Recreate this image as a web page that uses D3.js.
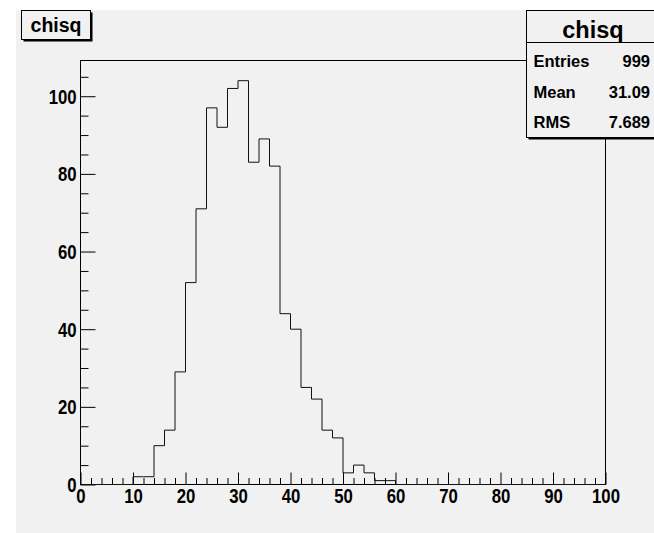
<!DOCTYPE html>
<html>
<head>
<meta charset="utf-8">
<script src="https://cdn.jsdelivr.net/npm/d3@7"></script>
<style>
  html, body { margin: 0; padding: 0; background: #ffffff; }
  svg { display: block; }
  text { font-family: "Liberation Sans", Arial, Helvetica, sans-serif; font-weight: bold; fill: #000; }
</style>
</head>
<body>
<svg id="chart" width="654" height="533"></svg>
<script>
// ---- data ----
const histTitle = "chisq";
const xMin = 0, xMax = 100, binWidth = 2;
const binCounts = [
  0, 0, 0, 0, 0,          // 0-10
  2, 2, 10, 14, 29,       // 10-20
  52, 71, 97, 92, 102,    // 20-30
  104, 83, 89, 82, 44,    // 30-40
  40, 25, 22, 14, 12,     // 40-50
  3, 5, 3, 1, 1,          // 50-60
  0, 0, 0, 0, 0,          // 60-70
  0, 0, 0, 0, 0,          // 70-80
  0, 0, 0, 0, 0,          // 80-90
  0, 0, 0, 0, 0           // 90-100
];
const yMaxAxis = 109.2;
const xMajorTicks = [0, 10, 20, 30, 40, 50, 60, 70, 80, 90, 100];
const yMajorTicks = [0, 20, 40, 60, 80, 100];
const statLabels = ["Entries", "Mean", "RMS"];
const statValues = ["999", "31.09", "7.689"];

// ---- layout ----
const svg = d3.select("#chart");
const frame = { left: 80.5, right: 605.5, top: 60.5, bottom: 484.5 };
const bg = "#f1f1f1";

svg.append("rect").attr("x", 16).attr("y", 10).attr("width", 654 - 16).attr("height", 533 - 10).attr("fill", bg);

const x = d3.scaleLinear().domain([xMin, xMax]).range([frame.left, frame.right]);
const y = d3.scaleLinear().domain([0, yMaxAxis]).range([frame.bottom, frame.top]);

// minor ticks
const xMinor = d3.range(xMin, xMax + 0.001, binWidth).filter(v => xMajorTicks.indexOf(v) < 0);
const yMinor = d3.range(0, yMaxAxis, 5).filter(v => yMajorTicks.indexOf(v) < 0);

const gx = svg.append("g").attr("transform", `translate(0,${frame.bottom})`);
gx.append("g").call(d3.axisBottom(x).tickValues(xMinor).tickSize(-6.5).tickFormat(""));
gx.append("g").call(d3.axisBottom(x).tickValues(xMajorTicks).tickSize(-12).tickPadding(5).tickFormat(d3.format("d")));
gx.selectAll(".domain").remove();
gx.selectAll("line").attr("stroke", "#000").attr("stroke-width", 1);
gx.selectAll("text").attr("font-size", 19.5).attr("font-family", null).attr("transform", "scale(0.86,1)");

const gy = svg.append("g").attr("transform", `translate(${frame.left},0)`);
gy.append("g").call(d3.axisLeft(y).tickValues(yMinor).tickSize(-8).tickFormat(""));
gy.append("g").call(d3.axisLeft(y).tickValues(yMajorTicks).tickSize(-15).tickPadding(4.5).tickFormat(d3.format("d")));
gy.selectAll(".domain").remove();
gy.selectAll("line").attr("stroke", "#000").attr("stroke-width", 1);
gy.selectAll("text").attr("font-size", 19.5).attr("font-family", null).attr("dy", "0.36em").attr("transform", "scale(0.86,1)");

// frame
svg.append("rect")
  .attr("x", frame.left).attr("y", frame.top)
  .attr("width", frame.right - frame.left).attr("height", frame.bottom - frame.top)
  .attr("fill", "none").attr("stroke", "#000").attr("stroke-width", 1);

// histogram outline
const pts = [[xMin, 0]];
binCounts.forEach((c, i) => pts.push([xMin + i * binWidth, c]));
pts.push([xMax, 0]);
const line = d3.line().x(d => x(d[0])).y(d => y(d[1])).curve(d3.curveStepAfter);
svg.append("path").attr("d", line(pts)).attr("fill", "none").attr("stroke", "#111").attr("stroke-width", 1);

// title box
const tb = { x: 21.5, y: 10.5, w: 69, h: 29 };
svg.append("rect").attr("x", tb.x + 2).attr("y", tb.y + 2).attr("width", tb.w).attr("height", tb.h).attr("fill", "#000");
svg.append("rect").attr("x", tb.x).attr("y", tb.y).attr("width", tb.w).attr("height", tb.h)
  .attr("fill", bg).attr("stroke", "#000").attr("stroke-width", 1);
svg.append("text").attr("x", tb.x + tb.w / 2).attr("y", 32).attr("text-anchor", "middle")
  .attr("font-size", 19.5).text(histTitle);

// stats box
const sb = { x: 526.5, y: 10.5, w: 133, h: 127 };
svg.append("rect").attr("x", sb.x + 2).attr("y", sb.y + 2).attr("width", sb.w).attr("height", sb.h).attr("fill", "#000");
svg.append("rect").attr("x", sb.x).attr("y", sb.y).attr("width", sb.w).attr("height", sb.h)
  .attr("fill", bg).attr("stroke", "#000").attr("stroke-width", 1);
svg.append("line").attr("x1", sb.x).attr("x2", sb.x + sb.w).attr("y1", 42.5).attr("y2", 42.5).attr("stroke", "#000");
svg.append("text").attr("x", sb.x + sb.w / 2).attr("y", 37.5).attr("text-anchor", "middle")
  .attr("font-size", 23.5).text(histTitle);
const rowBase = [67, 97.5, 128];
statLabels.forEach((lab, i) => {
  svg.append("text").attr("x", 533.5).attr("y", rowBase[i]).attr("font-size", 16.5).text(lab);
  svg.append("text").attr("x", 650).attr("y", rowBase[i]).attr("text-anchor", "end").attr("font-size", 16.5).text(statValues[i]);
});
</script>
</body>
</html>
